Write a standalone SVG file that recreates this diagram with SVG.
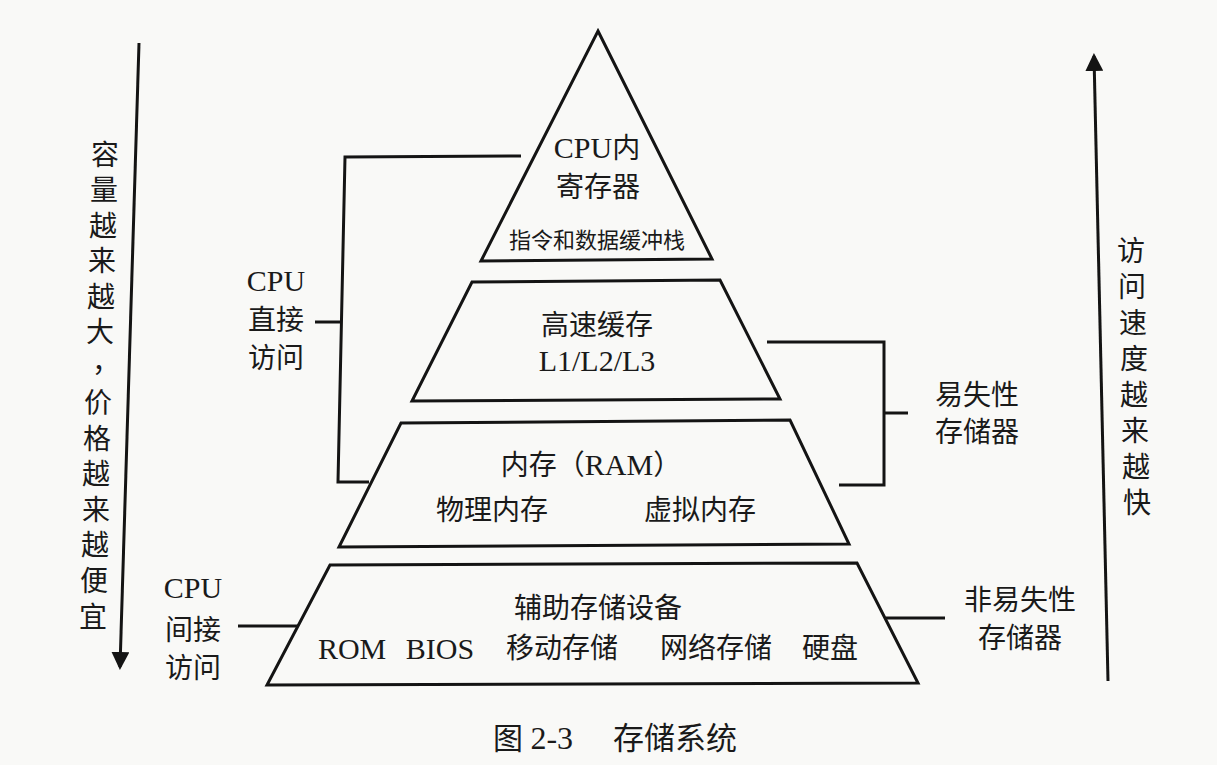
<svg xmlns="http://www.w3.org/2000/svg" width="1217" height="765" viewBox="0 0 1217 765">
<style>
.bg{fill:#f9f9f7}
.shape{fill:none;stroke:#141414;stroke-width:3;stroke-linejoin:miter}
.ln{fill:none;stroke:#141414;stroke-width:3}
.t{font-family:"Liberation Serif","Noto Sans CJK SC",serif;font-size:28px;fill:#1a1a1a;text-anchor:middle}
.s{font-size:22px}
.lat{font-size:30px}
</style>
<defs>
<marker id="ah" markerWidth="6" markerHeight="6" refX="5" refY="3" orient="auto" markerUnits="strokeWidth">
<path d="M0,0 L6,3 L0,6 Z" fill="#141414"/>
</marker>
</defs>
<rect class="bg" x="0" y="0" width="1217" height="765"/>

<g id="connectors">
<path class="ln" d="M521,156 L345,157 L338,482 L369,482"/>
<path class="ln" d="M315,322 L340,322"/>
<path class="ln" d="M767,342 L884,342 L884,485 L839,485"/>
<path class="ln" d="M884,413 L908,413"/>
<path class="ln" d="M238,626 L298,626"/>
<path class="ln" d="M886,618 L945,618"/>
<path class="ln" d="M139,43 L120,667" marker-end="url(#ah)"/>
<path class="ln" d="M1108,681 L1094,56" marker-end="url(#ah)"/>
</g>

<g id="registers">
<path class="shape" d="M598,31 L712,259 L481,261 Z"/>
<text class="t" x="597" y="158"><tspan class="lat">CPU</tspan>内</text>
<text class="t" x="598" y="197">寄存器</text>
<text class="t s" x="597" y="248">指令和数据缓冲栈</text>
</g>

<g id="cache">
<path class="shape" d="M472,282 L720,280 L780,399 L412,401 Z"/>
<text class="t" x="597" y="335">高速缓存</text>
<text class="t lat" x="597" y="371">L1/L2/L3</text>
</g>

<g id="ram">
<path class="shape" d="M401,423 L790,420 L849,544 L339,547 Z"/>
<text class="t" x="591" y="475">内存（<tspan class="lat">RAM</tspan>）</text>
<text class="t" x="492" y="520">物理内存</text>
<text class="t" x="700" y="520">虚拟内存</text>
</g>

<g id="storage">
<path class="shape" d="M330,565 L857,563 L918,683 L267,685 Z"/>
<text class="t" x="598" y="618">辅助存储设备</text>
<text class="t lat" x="396" y="659" style="word-spacing:12px">ROM BIOS</text>
<text class="t" x="562" y="658">移动存储</text>
<text class="t" x="716" y="658">网络存储</text>
<text class="t" x="830" y="658">硬盘</text>
</g>

<g id="label-direct">
<text class="t lat" x="276" y="291">CPU</text>
<text class="t" x="276" y="330">直接</text>
<text class="t" x="276" y="368">访问</text>
</g>

<g id="label-indirect">
<text class="t lat" x="193" y="598">CPU</text>
<text class="t" x="193" y="640">间接</text>
<text class="t" x="193" y="678">访问</text>
</g>

<g id="label-volatile">
<text class="t" x="977" y="405">易失性</text>
<text class="t" x="977" y="442">存储器</text>
</g>

<g id="label-nonvolatile">
<text class="t" x="1020" y="610">非易失性</text>
<text class="t" x="1020" y="648">存储器</text>
</g>

<g id="label-capacity">
<text class="t"><tspan x="105" y="165">容</tspan><tspan x="104" y="200">量</tspan><tspan x="103" y="236">越</tspan><tspan x="102" y="271">来</tspan><tspan x="101" y="307">越</tspan><tspan x="100" y="342">大</tspan><tspan x="106" y="372">，</tspan><tspan x="98" y="413">价</tspan><tspan x="97" y="449">格</tspan><tspan x="96" y="484">越</tspan><tspan x="96" y="520">来</tspan><tspan x="95" y="555">越</tspan><tspan x="94" y="591">便</tspan><tspan x="93" y="627">宜</tspan></text>
</g>

<g id="label-speed">
<text class="t"><tspan x="1131" y="261">访</tspan><tspan x="1132" y="297">问</tspan><tspan x="1133" y="333">速</tspan><tspan x="1134" y="369">度</tspan><tspan x="1134" y="405">越</tspan><tspan x="1135" y="441">来</tspan><tspan x="1136" y="477">越</tspan><tspan x="1137" y="513">快</tspan></text>
</g>

<g id="caption">
<text class="t" x="533" y="749" style="font-size:30px">图 <tspan style="font-size:32px">2-3</tspan></text>
<text class="t" x="675" y="749" style="font-size:31px">存储系统</text>
</g>
</svg>
